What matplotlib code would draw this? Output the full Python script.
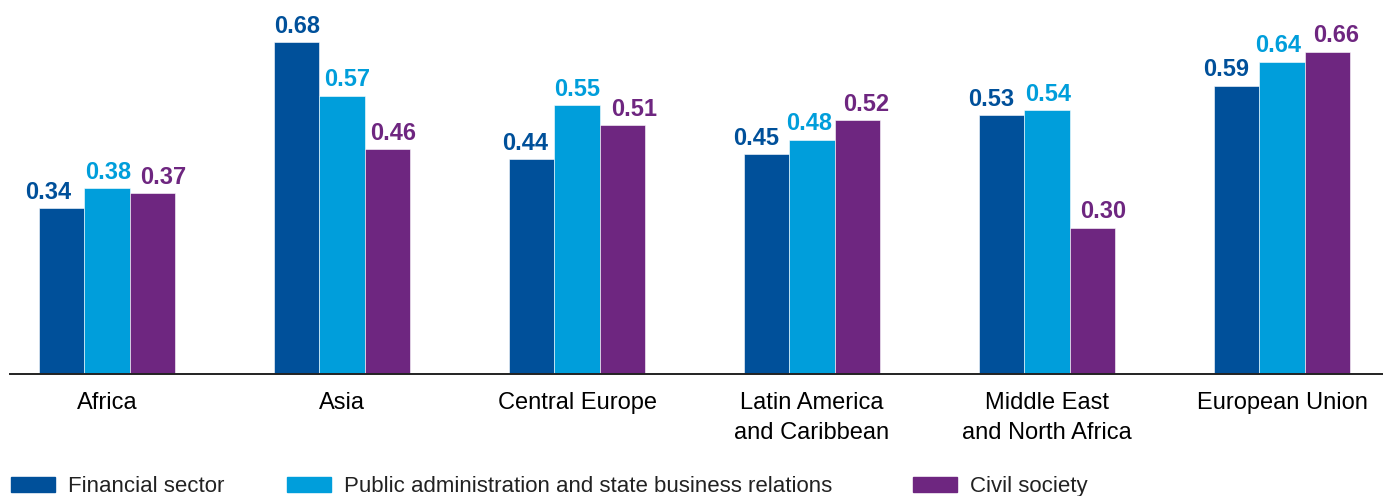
import matplotlib
matplotlib.use('Agg')
import numpy as np
from matplotlib import pyplot as plt
from matplotlib.patches import Rectangle

regions = ['Africa', 'Asia', 'Central Europe', 'Latin America\nand Caribbean',
           'Middle East\nand North Africa', 'European Union']
financial = [0.34, 0.68, 0.44, 0.45, 0.53, 0.59]
public_admin = [0.38, 0.57, 0.55, 0.48, 0.54, 0.64]
civil = [0.37, 0.46, 0.51, 0.52, 0.30, 0.66]
series_names = ['Financial sector',
                'Public administration and state business relations',
                'Civil society']
colors = ['#00509A', '#009EDB', '#6E2680']

# horizontal nudges (px) of value labels so neighbours don't collide
nudges = [
    [-14, 0, -7, -11, -10, -10],
    [1, 5, 0, -3, 1, -4],
    [11, 6, 12, 9, 11, 9],
]

plt.rcParams['font.family'] = ['Liberation Sans', 'DejaVu Sans']

W, H = 1383, 496
fig = plt.figure(figsize=(W / 100, H / 100), dpi=100)
ax = fig.add_axes([10 / W, 122 / H, 1373 / W, 374 / H])

x = np.arange(len(regions))
width = 0.193
for i, (vals, col) in enumerate(zip([financial, public_admin, civil], colors)):
    pos = x + (i - 1) * width
    ax.bar(pos, vals, width, color=col, edgecolor='white', linewidth=0.4)
    for j, (px, v) in enumerate(zip(pos, vals)):
        ax.annotate(f'{v:.2f}', (px, v),
                    xytext=(nudges[i][j] * 0.72, 6.8), textcoords='offset points',
                    ha='center', va='baseline', fontsize=17, fontweight='bold',
                    color=col)

ax.set_xlim(-0.413, 5.43)
ax.set_ylim(0, 0.766)
ax.set_xticks(x)
ax.set_xticklabels(regions, fontsize=17, linespacing=1.45)
ax.tick_params(axis='x', length=0, pad=13)
ax.set_yticks([])
for s in ['top', 'right', 'left']:
    ax.spines[s].set_visible(False)
ax.spines['bottom'].set_linewidth(1.4)
ax.spines['bottom'].set_color('#222222')

# legend drawn by hand to match spacing
legend_x = [11, 287, 913]
for lx, name, col in zip(legend_x, series_names, colors):
    fig.add_artist(Rectangle((lx / W, 4 / H), 44 / W, 15 / H,
                             transform=fig.transFigure, color=col))
    fig.text((lx + 57) / W, 4 / H, name, fontsize=16, va='baseline', ha='left',
             color='#222222')

fig.savefig('out.png', dpi=100)
